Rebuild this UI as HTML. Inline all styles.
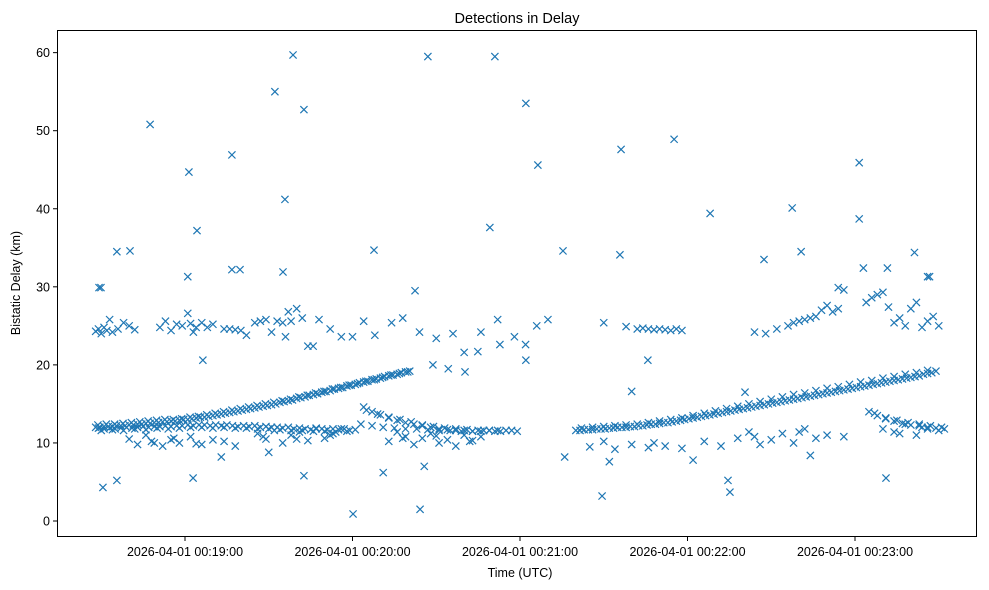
<!DOCTYPE html>
<html><head><meta charset="utf-8">
<style>
html,body{margin:0;padding:0;background:#fff;}
svg{display:block;font-family:"Liberation Sans","DejaVu Sans",sans-serif;}
</style></head>
<body>
<svg id="chart" width="989" height="590" viewBox="0 0 989 590">
<rect x="0" y="0" width="989" height="590" fill="#fff"/>
<text x="517" y="23" text-anchor="middle" font-size="14.5" fill="#000">Detections in Delay</text>
<g id="marks"></g>
<rect x="57.5" y="30.5" width="919" height="506" fill="none" stroke="#000" stroke-width="1"/>
<g id="yticks"></g>
<g id="xticks"></g>
<text x="520" y="577" text-anchor="middle" font-size="12.5">Time (UTC)</text>
<text transform="translate(20,283) rotate(-90)" text-anchor="middle" font-size="12.5">Bistatic Delay (km)</text>
</svg>
<script>
// time in seconds after 2026-04-01 00:18:00, delay in km
const trackATimes=[28,29.5,31,32.5,34,35.5,37,38.5,40,41.5,43,44.5,46,47.5,49,50.5,52,53.5,55,56.5,58,59.5,61,62.5,64,65.5,67,68.5,70,71.5,73,74.5,76,77.5,79,80.5,82,83.5,85,86.5,88,89.5,91,92.5,94,95.5,97,98.5,100,101.5,103,104.5,106,107.5,109,110.5,112,113.5,115,116.5,118,119.5,121,122.5,124,125.5,127,128.5,130,131.5,133,134.5,136,137.5,139,140.5];
const trackADelays=[12.0,12.0,12.1,12.1,12.1,12.2,12.2,12.2,12.3,12.3,12.4,12.4,12.5,12.5,12.6,12.6,12.7,12.7,12.8,12.8,12.9,13.0,13.0,13.1,13.2,13.3,13.3,13.4,13.5,13.6,13.7,13.8,13.9,14.0,14.1,14.2,14.3,14.4,14.5,14.6,14.7,14.8,14.9,15.0,15.2,15.3,15.4,15.5,15.7,15.8,15.9,16.1,16.2,16.3,16.5,16.6,16.7,16.9,17.0,17.1,17.3,17.4,17.5,17.7,17.8,17.9,18.1,18.2,18.3,18.5,18.6,18.7,18.8,19.0,19.1,19.2];
const trackA2Times=[28.8,31.8,34.8,37.8,40.8,43.8,46.8,49.8,52.8,55.8,58.8,61.8,64.8,67.8,70.8,73.8,76.8,79.8,82.8,85.8,88.8,91.8,94.8,97.8,100.8,103.8,106.8,109.8,112.8,115.8,118.8,121.8,124.8,127.8,130.8,133.8,136.8,139.8];
const trackA2Delays=[12.3,12.4,12.4,12.5,12.6,12.7,12.8,12.9,13.0,13.0,13.1,13.3,13.4,13.6,13.8,14.0,14.2,14.4,14.6,14.8,15.0,15.2,15.4,15.6,15.9,16.1,16.4,16.6,16.9,17.1,17.4,17.6,17.9,18.1,18.4,18.7,18.9,19.1];
const trackBTimes=[200,201.5,203,204.5,206,207.5,209,210.5,212,213.5,215,216.5,218,219.5,221,222.5,224,225.5,227,228.5,230,231.5,233,234.5,236,237.5,239,240.5,242,243.5,245,246.5,248,249.5,251,252.5,254,255.5,257,258.5,260,261.5,263,264.5,266,267.5,269,270.5,272,273.5,275,276.5,278,279.5,281,282.5,284,285.5,287,288.5,290,291.5,293,294.5,296,297.5,299,300.5,302,303.5,305,306.5,308,309.5,311,312.5,314,315.5,317,318.5,320,321.5,323,324.5,326,327.5,329];
const trackBDelays=[11.6,11.6,11.7,11.7,11.7,11.8,11.8,11.8,11.9,11.9,12.0,12.0,12.0,12.1,12.1,12.2,12.2,12.3,12.4,12.4,12.5,12.6,12.6,12.7,12.8,12.9,13.0,13.1,13.2,13.3,13.4,13.5,13.6,13.7,13.8,13.9,14.0,14.1,14.2,14.3,14.4,14.5,14.6,14.7,14.8,14.9,15.0,15.1,15.2,15.3,15.4,15.5,15.6,15.7,15.8,15.9,16.0,16.1,16.2,16.3,16.4,16.5,16.6,16.7,16.8,16.9,17.0,17.1,17.2,17.3,17.4,17.5,17.6,17.7,17.8,17.9,18.0,18.1,18.2,18.3,18.4,18.5,18.6,18.8,18.9,19.0,19.2];
const trackB2Times=[202,206,210,214,218,222,226,230,234,238,242,246,250,254,258,262,266,270,274,278,282,286,290,294,298,302,306,310,314,318,322,326];
const trackB2Delays=[11.9,12.0,12.1,12.2,12.3,12.4,12.6,12.8,13.0,13.2,13.5,13.8,14.1,14.4,14.7,15.0,15.3,15.6,15.9,16.2,16.4,16.7,17.0,17.2,17.5,17.8,18.0,18.3,18.5,18.8,19.0,19.3];
const bandTimes=[29,31,33,35,37,39,41,43,45,47,49,51,53,55,57,59,61,63,65,67,69,71,73,75,77,79,81,83,85,87,89,91,93,95,97,99,101,103,105,107,109,111,113,115,117,119,121,123,127,131,135,139,143,147,151,155,159,163,167,171,175,179,124,127,130,133,136,139,142,145,148,151,154,157,160,163,166,169,172,305,308,311,314,317,320,323,326,329,332];
const bandDelays=[11.9,11.8,11.9,11.8,11.9,12.0,11.9,12.0,12.1,12.0,12.1,12.1,12.2,12.1,12.2,12.2,12.3,12.2,12.3,12.3,12.2,12.3,12.2,12.3,12.2,12.1,12.2,12.1,12.2,12.0,12.1,12.0,12.0,11.9,12.0,11.8,11.9,11.8,11.7,11.9,11.8,11.7,11.8,11.7,11.8,11.6,11.7,12.4,12.2,12.0,11.9,11.8,11.8,11.7,11.6,11.6,11.5,11.5,11.6,11.5,11.6,11.5,14.6,14.0,13.6,13.2,12.9,12.6,12.4,12.2,12.0,11.8,11.7,11.6,11.6,11.5,11.5,11.6,11.6,14.0,13.5,13.1,12.8,12.5,12.3,12.2,12.0,11.9,11.8];
const band2Times=[30,34,38,42,46,50,54,58,62,66,70,74,78,82,86,90,94,98,102,106,110,114,118,125,129,133,137,141,145,149,153,157,161,165,169,173,177,307,311,315,319,323,327,331];
const band2Delays=[11.6,11.7,11.6,11.8,11.7,11.9,11.8,11.9,12.0,12.0,11.9,12.0,11.9,11.9,11.8,11.8,11.7,11.6,11.6,11.5,11.5,11.4,11.5,14.2,13.7,13.3,13.0,12.7,12.3,12.1,11.9,11.8,11.7,11.6,11.6,11.5,11.6,13.8,13.2,12.9,12.6,12.4,12.2,12.0];
const lowBandTimes=[40,43,46,49,52,55,58,62,66,70,74,78,86,89,92,95,98,101,104,107,110,113,116,133,136,139,142,145,148,151,154,157,160,163,166,205,210,214,220,226,232,238,246,252,258,262,266,270,274,278,282,286,290,296,310,314,318,322,326,330,48,56,64,88,100,112,138,150,162,228,264,280,316,324];
const lowBandDelays=[10.5,9.8,11.0,10.0,9.6,10.4,10.0,10.8,9.8,10.4,10.2,9.6,11.2,10.5,11.6,10.0,11.0,11.4,10.3,11.8,10.6,11.2,11.8,10.2,11.4,10.8,9.8,10.6,11.2,10.0,10.4,9.6,11.0,10.3,10.8,9.5,10.2,9.2,9.8,9.4,9.6,9.3,10.2,9.6,10.6,11.4,9.8,10.4,11.2,10.0,11.8,10.6,11.0,10.8,11.8,11.4,12.4,11.0,11.8,11.6,10.2,10.6,9.9,10.8,10.5,11.0,10.6,10.9,10.2,10.0,10.8,11.4,11.2,12.0];
const clusterTimes=[28,29,30,31,32,33,34,36,38,40,42,51,53,55,57,59,61,62,63,64,66,68,70,74,76,78,80,82,85,87,89,91,93,95,96,97,98,100,102,104,108,112,116,120,124,128,134,138,144,150,156,160,166,172,178,182,186,190,210,218,222,224,226,228,230,232,234,236,238,264,268,272,276,278,280,282,284,286,288,290,292,294,296,304,306,308,310,312,314,316,318,320,322,324,326,328,330];
const clusterDelays=[24.3,24.6,24.0,24.8,24.4,25.8,24.2,24.6,25.4,25.0,24.5,24.8,25.6,24.4,25.2,25.0,26.6,25.3,24.2,24.8,25.4,24.8,25.2,24.6,24.6,24.5,24.4,23.8,25.4,25.6,25.8,24.2,25.6,25.4,23.6,26.8,25.6,27.2,26.0,22.4,25.8,24.6,23.6,23.6,25.6,23.8,25.4,26.0,24.2,23.4,24.0,21.6,24.2,25.8,23.6,22.6,25.0,25.8,25.4,24.9,24.6,24.7,24.6,24.5,24.6,24.5,24.4,24.6,24.4,24.2,24.0,24.6,25.0,25.4,25.6,25.8,26.0,26.2,27.0,27.6,26.8,27.2,29.6,28.0,28.6,29.0,29.3,27.4,25.4,26.0,25.0,27.2,28.0,24.8,25.6,26.2,25.0];
const outlierTimes=[29.2,29.9,35.6,40.3,47.5,61.4,61,64.3,76.8,76.8,79.7,92.2,95.1,95.8,98.7,102.6,127.7,142.4,147,171,169.2,182.1,186.4,195.4,216.2,215.8,235.2,248.1,267.4,277.5,280.7,301.5,301.5,303,311.6,321.3,326,326.7,294,30.6,35.6,62.9,102.6,120.2,131,144.2,145.7,209.4,254.5,255.2,311.1,66.4,148.8,154.3,164.9,160.3,172.8,182.1,225.8,105.9,220,260.6,196,212,242,284,90,73];
const outlierDelays=[29.9,29.9,34.5,34.6,50.8,44.7,31.3,37.2,46.9,32.2,32.2,55.0,31.9,41.2,59.7,52.7,34.7,29.5,59.5,59.5,37.6,53.5,45.6,34.6,47.6,34.1,48.9,39.4,33.5,40.1,34.5,45.9,38.7,32.4,32.4,34.4,31.3,31.3,29.9,4.3,5.2,5.5,5.8,0.9,6.2,1.5,7.0,3.2,5.2,3.7,5.5,20.6,20.0,19.5,21.7,19.1,22.6,20.6,20.6,22.4,16.6,16.5,8.2,7.6,7.8,8.4,8.8,8.2];

const X0=57,X1=977,Y0=537,Y1=30;
const T0=14.15,T1=343.7,D0=-2.05,D1=62.9;
function xs(t){return X0+(t-T0)/(T1-T0)*(X1-X0);}
function ys(d){return Y0-(d-D0)/(D1-D0)*(Y0-Y1);}
const NS='http://www.w3.org/2000/svg';
const marks=document.getElementById('marks');
function plot(times,delays,name){
  for(let i=0;i<times.length;i++){
    const x=xs(times[i]),y=ys(delays[i]),r=3.6;
    const p=document.createElementNS(NS,'path');
    p.setAttribute('d','M'+(x-r)+' '+(y-r)+'L'+(x+r)+' '+(y+r)+'M'+(x-r)+' '+(y+r)+'L'+(x+r)+' '+(y-r));
    p.setAttribute('stroke','#1f77b4');
    p.setAttribute('stroke-width','1.2');
    
    
    marks.appendChild(p);
  }
}
plot(trackATimes,trackADelays,'detection-marker');
plot(trackA2Times,trackA2Delays,'detection-marker');
plot(trackBTimes,trackBDelays,'detection-marker');
plot(trackB2Times,trackB2Delays,'detection-marker');
plot(bandTimes,bandDelays,'detection-marker');
plot(band2Times,band2Delays,'detection-marker');
plot(lowBandTimes,lowBandDelays,'detection-marker');
plot(clusterTimes,clusterDelays,'detection-marker');
plot(outlierTimes,outlierDelays,'detection-marker');

const yTickValues=[0,10,20,30,40,50,60];
const yg=document.getElementById('yticks');
yTickValues.forEach(v=>{
  const y=ys(v);
  const l=document.createElementNS(NS,'line');
  l.setAttribute('x1',57);l.setAttribute('x2',53);l.setAttribute('y1',y);l.setAttribute('y2',y);
  l.setAttribute('stroke','#000');
  
  
  yg.appendChild(l);
  const t=document.createElementNS(NS,'text');
  t.setAttribute('x',50);t.setAttribute('y',y+4.5);t.setAttribute('text-anchor','end');t.setAttribute('font-size','12.5');
  t.textContent=v;
  
  
  yg.appendChild(t);
});
const xTickValues=[60,120,180,240,300];
const xTickLabels=['2026-04-01 00:19:00','2026-04-01 00:20:00','2026-04-01 00:21:00','2026-04-01 00:22:00','2026-04-01 00:23:00'];
const xg=document.getElementById('xticks');
xTickValues.forEach((v,i)=>{
  const x=xs(v);
  const l=document.createElementNS(NS,'line');
  l.setAttribute('x1',x);l.setAttribute('x2',x);l.setAttribute('y1',537);l.setAttribute('y2',541);
  l.setAttribute('stroke','#000');
  
  
  xg.appendChild(l);
  const t=document.createElementNS(NS,'text');
  t.setAttribute('x',x);t.setAttribute('y',556);t.setAttribute('text-anchor','middle');t.setAttribute('font-size','12.5');
  t.textContent=xTickLabels[i];
  
  
  xg.appendChild(t);
});
</script>
</body></html>
